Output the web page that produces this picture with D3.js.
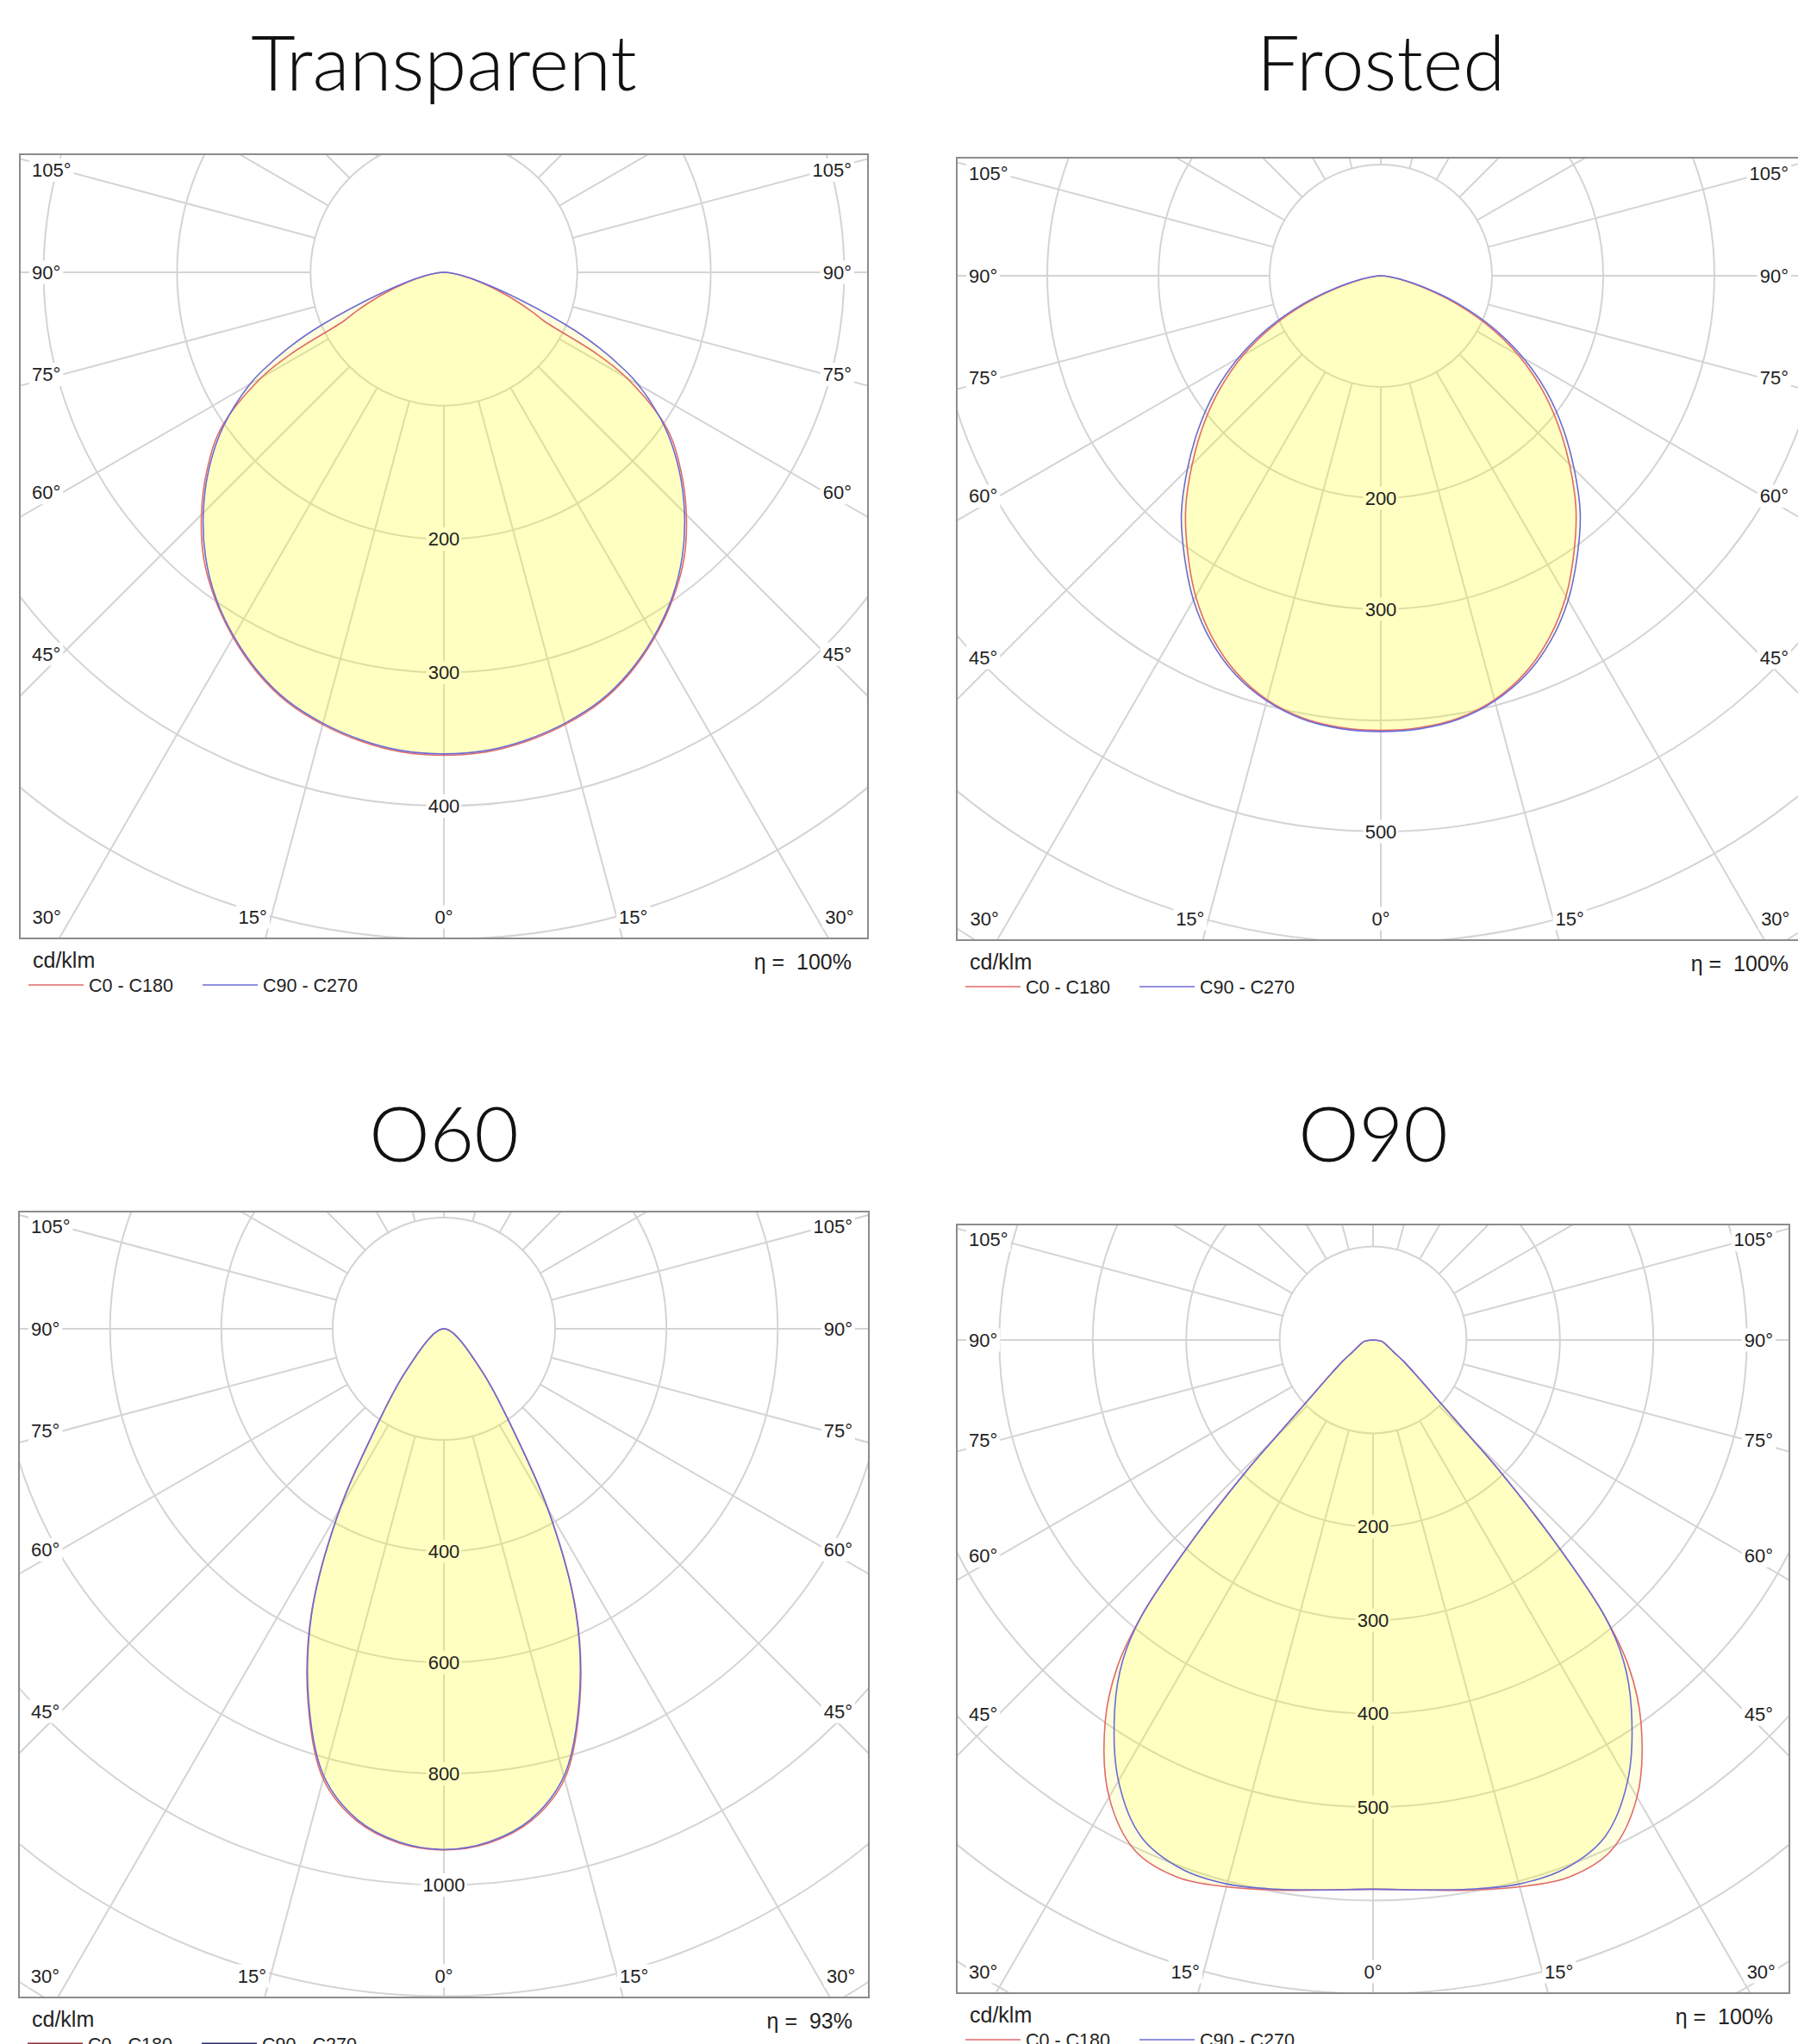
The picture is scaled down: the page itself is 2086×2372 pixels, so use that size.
<!DOCTYPE html>
<html>
<head>
<meta charset="utf-8">
<script src="https://cdn.jsdelivr.net/npm/d3@7"></script>
<style>
    body { margin: 0; background: #fff; }
    svg { display: block; }
    .title { font-family: Lato, "Open Sans", sans-serif; font-size: 89px; font-weight: 300; fill: #111; }
    .lbl { font-family: "Liberation Sans", Arial, sans-serif; font-size: 22px; fill: #222; }
    .leg { font-family: "Liberation Sans", Arial, sans-serif; fill: #222; }
</style>
</head>
<body>
<div id="chart"></div>
<script>

// ---- data (cd/klm, gamma angle from nadir in degrees) ----

var transparentAngles = [0, 5, 10, 15, 20, 25, 30, 35, 40, 45, 50, 55, 60, 62, 64, 66, 70, 75, 80, 85, 90];
var transparentC0  = [362, 361, 357, 351, 343, 331, 316, 299, 280, 257, 232, 204, 158, 128, 84, 72, 50, 28, 13, 5, 0];
var transparentC90 = [361, 360, 356, 350, 342, 330, 315, 298, 278, 255, 230, 202, 168, 150, 130, 108, 62, 30, 14, 5, 0];
var transparentRingLabels = [200, 300, 400];

var frostedAngles = [0, 5, 10, 15, 20, 25, 30, 35, 40, 45, 50, 55, 60, 65, 70, 75, 80, 85, 90];
var frostedC0  = [409, 408, 404, 395, 380, 359, 333, 303, 273, 240, 208, 176, 143, 107, 70, 37, 16, 5, 0];
var frostedC90 = [410, 409, 405, 396, 382, 362, 337, 308, 279, 246, 214, 182, 148, 112, 75, 40, 18, 6, 0];
var frostedRingLabels = [200, 300, 500];

var o60Angles = [0, 5, 10, 15, 20, 25, 30, 35, 40, 45, 50, 55, 60, 65, 70, 75, 80, 85, 90];
var o60C0  = [937, 928, 899, 838, 714, 563, 374, 206, 125, 75, 50, 35, 25, 18, 12, 8, 5, 2, 0];
var o60C90 = [936, 926, 896, 833, 711, 561, 373, 205, 125, 75, 50, 35, 25, 18, 12, 8, 5, 2, 0];
var o60RingLabels = [400, 600, 800, 1000];

var o90Angles = [0, 5, 10, 15, 20, 25, 30, 35, 38, 40, 42, 44, 45, 47, 50, 55, 60, 70, 80, 90];
var o90C0  = [588, 591, 598, 606, 612, 603, 565, 500, 445, 385, 290, 195, 150, 98, 65, 40, 25, 15, 10, 0];
var o90C90 = [588, 591, 597, 603, 602, 587, 545, 482, 435, 385, 290, 195, 150, 98, 65, 40, 25, 15, 10, 0];
var o90RingLabels = [200, 300, 400, 500];

var sideLabelAngles = [105, 90, 75, 60, 45];
var bottomLabelAngles = [-30, -15, 0, 15, 30];
var seriesNames = ["C0 - C180", "C90 - C270"];

// ---- layout of the four panels ----

var panels = [
    {title: "Transparent", angles: transparentAngles, c0: transparentC0, c90: transparentC90,
     ringLabels: transparentRingLabels, step: 100, innerPx: 154.8, eta: "100%",
     box: {x: 23, y: 179, w: 984, h: 910}, centerDy: 137, titleY: 105},
    {title: "Frosted", angles: frostedAngles, c0: frostedC0, c90: frostedC90,
     ringLabels: frostedRingLabels, step: 100, innerPx: 129, eta: "100%",
     box: {x: 1110, y: 183, w: 984, h: 908}, centerDy: 137, titleY: 105},
    {title: "O60", angles: o60Angles, c0: o60C0, c90: o60C90,
     ringLabels: o60RingLabels, step: 200, innerPx: 129.1, eta: "93%",
     box: {x: 22, y: 1406, w: 986, h: 912}, centerDy: 136, titleY: 1348,
     legendColors: ["#8e2a38", "#2c2c70"]},
    {title: "O90", angles: o90Angles, c0: o90C0, c90: o90C90,
     ringLabels: o90RingLabels, step: 100, innerPx: 108.4, eta: "100%",
     box: {x: 1110, y: 1421, w: 966, h: 892}, centerDy: 134, titleY: 1348}
];

var redColor = "#e06a6a";
var blueColor = "#6b6bd6";
var gridColor = "#d4d4d4";

var svg = d3.select("#chart").append("svg")
    .attr("width", 2086)
    .attr("height", 2372);

var rad = Math.PI / 180;

function outline(angles, vals) {
    var pts = angles.map(function(a, i) { return {a: a, v: vals[i]}; });
    var right = pts.slice().sort(function(m, n) { return n.a - m.a; })
        .map(function(d) { return [Math.PI - d.a * rad, d.v]; });
    var left = pts.slice().sort(function(m, n) { return m.a - n.a; }).slice(1)
        .map(function(d) { return [Math.PI + d.a * rad, d.v]; });
    return right.concat(left);
}

function addBg(layer, textSel, pad) {
    var bb = textSel.node().getBBox();
    layer.append("rect")
        .attr("x", bb.x - pad).attr("y", bb.y - 1)
        .attr("width", bb.width + 2 * pad).attr("height", bb.height + 2)
        .attr("fill", "#fff");
}

function drawPanel(p, idx) {
    var b = p.box;
    var cx = b.x + b.w / 2, cy = b.y + p.centerDy;
    var bottom = b.y + b.h;
    var r = d3.scaleLinear().domain([0, p.step]).range([0, p.innerPx]);

    var g = svg.append("g");

    g.append("text")
        .attr("class", "title")
        .attr("x", cx).attr("y", p.titleY)
        .attr("text-anchor", "middle")
        .text(p.title);

    var clipId = "clip" + idx;
    svg.append("clipPath").attr("id", clipId).append("rect")
        .attr("x", b.x).attr("y", b.y).attr("width", b.w).attr("height", b.h);

    var plot = g.append("g").attr("clip-path", "url(#" + clipId + ")");
    var grid = plot.append("g").attr("transform", "translate(" + cx + "," + cy + ")");

    var maxPx = Math.hypot(b.w / 2, bottom - cy) + 10;
    var rings = d3.range(p.step, r.invert(maxPx) + p.step, p.step);

    grid.selectAll(".ring").data(rings).enter().append("circle")
        .attr("class", "ring")
        .attr("r", function(d) { return r(d); })
        .attr("fill", "none")
        .attr("stroke", gridColor)
        .attr("stroke-width", 2);

    grid.selectAll(".spoke").data(d3.range(0, 360, 15)).enter().append("line")
        .attr("class", "spoke")
        .attr("x1", function(d) { return r(p.step) * Math.sin(d * rad); })
        .attr("y1", function(d) { return r(p.step) * Math.cos(d * rad); })
        .attr("x2", function(d) { return maxPx * Math.sin(d * rad); })
        .attr("y2", function(d) { return maxPx * Math.cos(d * rad); })
        .attr("stroke", gridColor)
        .attr("stroke-width", 2);

    // angle labels along the frame, each on a white patch
    var labels = g.append("g");
    var bgLayer = labels.append("g");

    sideLabelAngles.forEach(function(a) {
        var yl = cy + (cx - (b.x + 49)) / Math.tan(a * rad);
        var t1 = labels.append("text").attr("class", "lbl")
            .attr("x", b.x + 14).attr("y", yl)
            .attr("dominant-baseline", "central")
            .text(a + "°");
        addBg(bgLayer, t1, 3);
        var t2 = labels.append("text").attr("class", "lbl")
            .attr("x", b.x + b.w - 19).attr("y", yl)
            .attr("text-anchor", "end")
            .attr("dominant-baseline", "central")
            .text(a + "°");
        addBg(bgLayer, t2, 3);
    });

    bottomLabelAngles.forEach(function(a) {
        var yc = bottom - 25;
        // where the spoke leaves the frame
        var xe = cx + (bottom - cy) * Math.tan(a * rad);
        var anchor = a < 0 ? "end" : (a > 0 ? "start" : "middle");
        var xt = a < 0 ? xe + 2 : (a > 0 ? xe - 4 : xe);
        var t = labels.append("text").attr("class", "lbl")
            .attr("x", xt).attr("y", yc)
            .attr("text-anchor", anchor)
            .attr("dominant-baseline", "central")
            .text(Math.abs(a) + "°");
        addBg(bgLayer, t, 3);
    });

    // ring value labels: background under the fill, text above it
    var ringBg = plot.append("g");

    var curves = plot.append("g").attr("transform", "translate(" + cx + "," + cy + ")");
    var line = d3.lineRadial()
        .angle(function(d) { return d[0]; })
        .radius(function(d) { return r(d[1]); })
        .curve(d3.curveCatmullRom.alpha(0.5));

    var series = [
        {vals: p.c0, color: redColor},
        {vals: p.c90, color: blueColor}
    ];

    curves.selectAll(".fill").data(series).enter().append("path")
        .attr("class", "fill")
        .attr("d", function(d) { return line(outline(p.angles, d.vals)) + "Z"; })
        .attr("fill", "#ffff00")
        .attr("fill-opacity", 0.13)
        .attr("stroke", "none");

    curves.selectAll(".curve").data(series).enter().append("path")
        .attr("class", "curve")
        .attr("d", function(d) { return line(outline(p.angles, d.vals)) + "Z"; })
        .attr("fill", "none")
        .attr("stroke", function(d) { return d.color; })
        .attr("stroke-width", 1.6);

    var ringText = plot.append("g");
    p.ringLabels.forEach(function(v) {
        var t = ringText.append("text").attr("class", "lbl")
            .attr("x", cx).attr("y", cy + r(v))
            .attr("text-anchor", "middle")
            .attr("dominant-baseline", "central")
            .text(v);
        addBg(ringBg, t, 2);
    });

    g.append("rect")
        .attr("x", b.x).attr("y", b.y).attr("width", b.w).attr("height", b.h)
        .attr("fill", "none")
        .attr("stroke", "#8c8c8c")
        .attr("stroke-width", 2);

    // legend
    g.append("text").attr("class", "leg")
        .attr("x", b.x + 15).attr("y", bottom + 34)
        .style("font-size", "25px")
        .text("cd/klm");

    g.append("text").attr("class", "leg")
        .attr("x", b.x + b.w - 19).attr("y", bottom + 36)
        .attr("text-anchor", "end")
        .style("font-size", "25px")
        .attr("xml:space", "preserve")
        .text("η =  " + p.eta);

    var legColors = p.legendColors || [redColor, blueColor];
    var legOffsets = [10, 212];
    seriesNames.forEach(function(name, i) {
        g.append("line")
            .attr("x1", b.x + legOffsets[i]).attr("x2", b.x + legOffsets[i] + 64)
            .attr("y1", bottom + 54).attr("y2", bottom + 54)
            .attr("stroke", legColors[i])
            .attr("stroke-width", p.legendColors ? 3 : 1.6);
        g.append("text").attr("class", "leg")
            .attr("x", b.x + legOffsets[i] + 70).attr("y", bottom + 62)
            .style("font-size", "21.5px")
            .text(name);
    });
}

panels.forEach(drawPanel);

</script>
</body>
</html>
